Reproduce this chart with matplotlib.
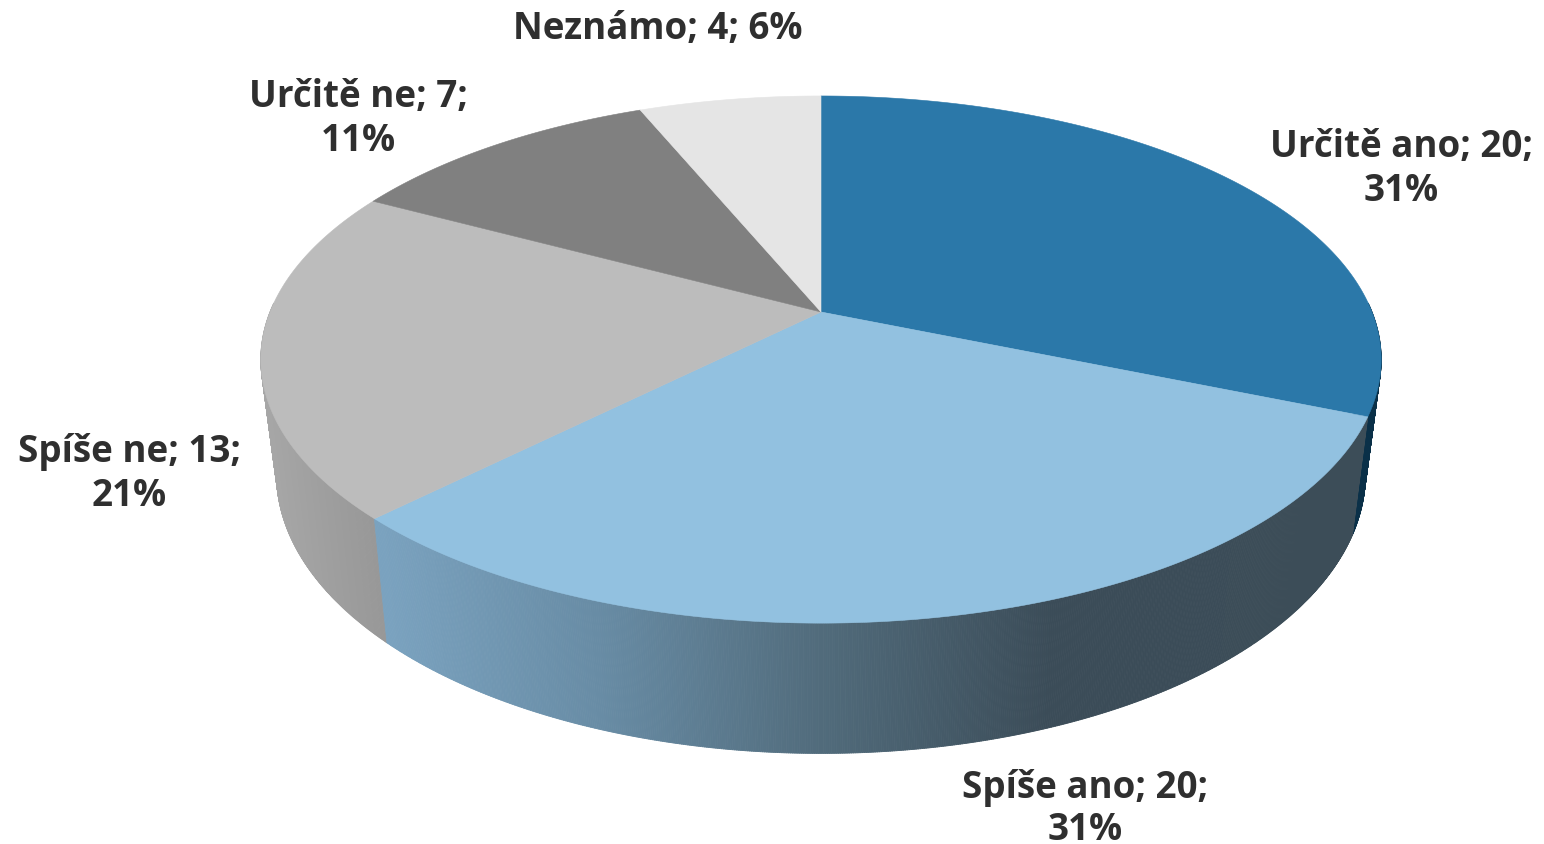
import numpy as np
import matplotlib
matplotlib.use("Agg")
import matplotlib.pyplot as plt
from matplotlib.collections import PolyCollection

categories = ["Určitě ano", "Spíše ano", "Spíše ne", "Určitě ne", "Neznámo"]
values = [20, 20, 13, 7, 4]
percent_labels = ["31%", "31%", "21%", "11%", "6%"]
top_colors = ["#2b78a9", "#92c1e0", "#bcbcbc", "#808080", "#e5e5e5"]

# label layout (centre x, centre y of first line, line gap; gap 0 = one line)
label_pos = [(1401, 147, 44), (1085, 788, 42), (129, 452, 44), (358, 97, 44), (658, 29, 0)]
FONT = "Open Sans"
FSIZE = 26.5
TEXT = "#2f2f2f"

# perspective camera for the top and bottom discs (pixels)
CX = 821
K = 0.1804
TOP = dict(A=551.0, B=255.0, Yc=312.0)
BOT = dict(A=535.5, B=270.0, Yc=424.0)


def project(theta, d):
    u, v = np.sin(theta), np.cos(theta)
    w = 1 + K * v
    return CX + d["A"] * u / w, d["Yc"] - d["B"] * v / w


def lerp(stops, x):
    xs = [s[0] for s in stops]
    return [np.interp(x, xs, [s[1][i] for s in stops]) / 255 for i in range(3)]


WALL = {
    0: [(0, (10, 48, 72)), (2000, (10, 48, 72))],
    1: [(387, (122, 162, 191)), (600, (104, 140, 165)), (830, (80, 106, 122)),
        (1050, (59, 76, 88)), (1400, (60, 77, 88))],
    2: [(262, (168, 168, 168)), (387, (151, 151, 151))],
}

fig = plt.figure(figsize=(15.44, 8.44), dpi=100)
ax = fig.add_axes([0, 0, 1, 1])
ax.set_xlim(0, 1544)
ax.set_ylim(844, 0)
ax.axis("off")

fractions = np.cumsum([0] + values) / np.sum(values)
angles = fractions * 2 * np.pi

# side walls: front half of the rim, back to front
quads, cols = [], []
for i in range(len(values)):
    lo, hi = max(angles[i], np.radians(88)), min(angles[i + 1], np.radians(272))
    if lo >= hi:
        continue
    ts = np.linspace(lo, hi, int((hi - lo) * 300) + 2)
    for a, b in zip(ts[:-1], ts[1:]):
        xa, ya = project(a, TOP)
        xb, yb = project(b, TOP)
        xc, yc = project(b, BOT)
        xd, yd = project(a, BOT)
        quads.append(((np.cos((a + b) / 2)), [(xa, ya), (xb, yb), (xc, yc), (xd, yd)]))
        cols.append(lerp(WALL[i], (xa + xb + xc + xd) / 4))
order = np.argsort([-q[0] for q in quads])
ax.add_collection(PolyCollection([quads[j][1] for j in order],
                                 facecolors=[cols[j] for j in order],
                                 edgecolors=[cols[j] for j in order], linewidths=0.6))

# top face
for i in range(len(values)):
    ts = np.linspace(angles[i], angles[i + 1], 300)
    xs, ys = project(ts, TOP)
    xs = np.concatenate([[CX], xs])
    ys = np.concatenate([[TOP["Yc"]], ys])
    ax.fill(xs, ys, facecolor=top_colors[i], edgecolor=top_colors[i], linewidth=0.4)

for name, val, pct, (x, y, gap) in zip(categories, values, percent_labels, label_pos):
    kw = dict(ha="center", va="center", family=FONT, fontweight="bold", fontsize=FSIZE, color=TEXT)
    if gap == 0:
        ax.text(x, y, f"{name}; {val}; {pct}", **kw)
    else:
        ax.text(x, y, f"{name}; {val};", **kw)
        ax.text(x, y + gap, pct, **kw)

fig.savefig("out.png", dpi=100)
